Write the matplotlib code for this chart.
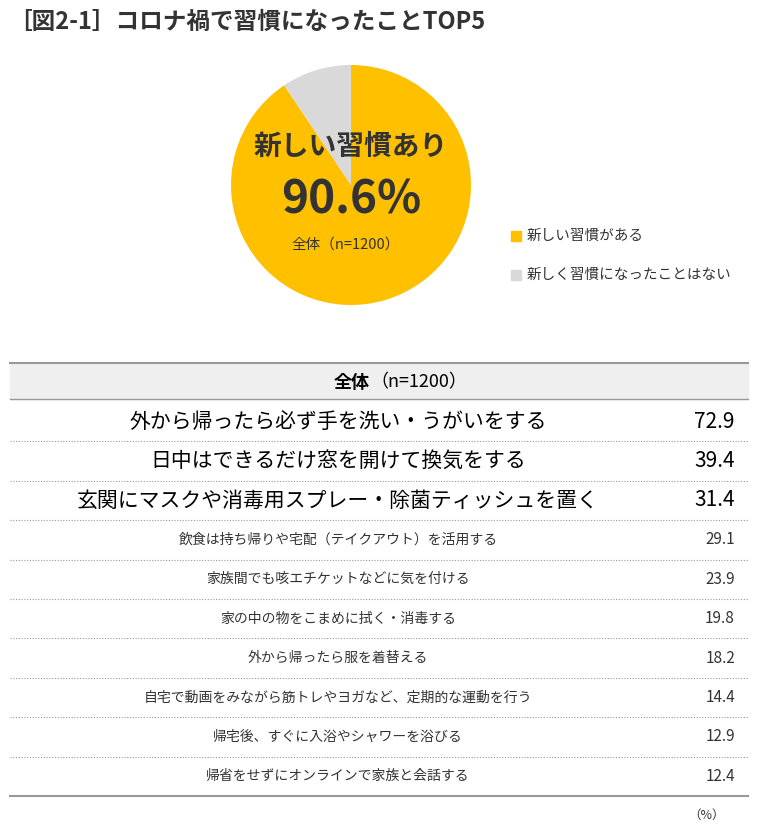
import matplotlib
matplotlib.use("Agg")
import matplotlib.pyplot as plt

plt.rcParams["font.family"] = "Noto Sans CJK JP"

pie_labels = ["新しい習慣がある", "新しく習慣になったことはない"]
pie_values = [90.6, 9.4]
pie_colors = ["#FFC000", "#D9D9D9"]

items = ["外から帰ったら必ず手を洗い・うがいをする", "日中はできるだけ窓を開けて換気をする",
         "玄関にマスクや消毒用スプレー・除菌ティッシュを置く", "飲食は持ち帰りや宅配（テイクアウト）を活用する",
         "家族間でも咳エチケットなどに気を付ける", "家の中の物をこまめに拭く・消毒する",
         "外から帰ったら服を着替える", "自宅で動画をみながら筋トレやヨガなど、定期的な運動を行う",
         "帰宅後、すぐに入浴やシャワーを浴びる", "帰省をせずにオンラインで家族と会話する"]
values = [72.9, 39.4, 31.4, 29.1, 23.9, 19.8, 18.2, 14.4, 12.9, 12.4]

W, H = 765, 827
fig = plt.figure(figsize=(W/100, H/100), dpi=100)

pax = fig.add_axes([231/W, (H-305)/H, 240/W, 240/H])
pax.pie(pie_values, colors=pie_colors, startangle=90, counterclock=False, radius=1)
pax.set_xlim(-1, 1); pax.set_ylim(-1, 1)
pax.set_aspect("equal")

ax = fig.add_axes([0, 0, 1, 1])
ax.set_xlim(0, W); ax.set_ylim(H, 0); ax.axis("off")
ax.patch.set_alpha(0)
c = "#333333"
ax.text(8, 22, "［図2-1］コロナ禍で習慣になったことTOP5", fontsize=17, fontweight="bold", color=c, va="center")

ax.text(351, 147, "新しい習慣あり", fontsize=20, fontweight="bold", color=c, ha="center", va="center")
ax.text(351, 201, "90.6%", fontsize=33, fontweight="bold", color=c, ha="center", va="center")
ax.text(346, 245, "全体（n=1200）", fontsize=10.5, color=c, ha="center", va="center")

for i, (lab, col) in enumerate(zip(pie_labels, pie_colors)):
    y = 236 + i*39
    ax.add_patch(plt.Rectangle((511, y-5), 10, 10, color=col))
    ax.text(527, y, lab, fontsize=10.5, color=c, va="center")

ax.add_patch(plt.Rectangle((10, 363), 738, 36, color="#EFEFEF", zorder=0))
ax.plot([10, 748], [363, 363], color="#999999", lw=1.5)
ax.plot([10, 748], [399, 399], color="#999999", lw=1)
ax.text(370, 382, "全体", fontsize=13, fontweight="bold", color="black", ha="right", va="center")
ax.text(370, 382, "（n=1200）", fontsize=13, color="black", ha="left", va="center")

top = 402; rh = 39.4
for i, (it, v) in enumerate(zip(items, values)):
    yc = top + rh*(i+0.5)
    fs = 15 if i < 3 else 10
    vfs = 15 if i < 3 else 11
    ax.text(338, yc, it, fontsize=fs, color="black" if i < 3 else c, ha="center", va="center")
    ax.text(735, yc, f"{v:.1f}", fontsize=vfs, color="black" if i < 3 else c, ha="right", va="center")
    yb = top + rh*(i+1)
    if i < len(items)-1:
        ax.plot([10, 748], [yb, yb], color="#999999", lw=0.8, ls=(0, (1, 1.5)))
    else:
        ax.plot([10, 748], [yb, yb], color="#999999", lw=1.5)
ax.text(725, 815, "（%）", fontsize=9, color=c, ha="right", va="center")
fig.savefig("out.png", dpi=100)
